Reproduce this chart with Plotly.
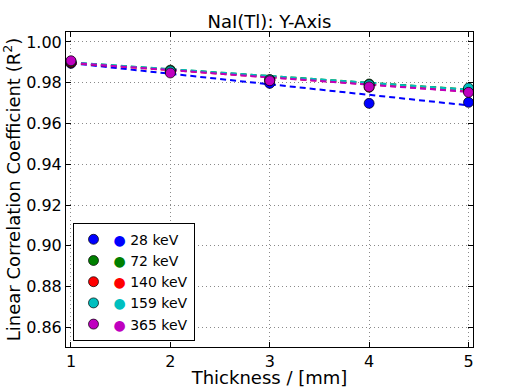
import plotly.graph_objects as go

# ----------------------------------------------------------------------
# data
thickness = [1, 2, 3, 4, 5]
energies = ['28 keV', '72 keV', '140 keV', '159 keV', '365 keV']
colors = ['#0000FF', '#008000', '#FF0000', '#00BFBF', '#BF00BF']

r2_28 = [0.9895, 0.9855, 0.9797, 0.9699, 0.9704]
r2_72 = [0.9900, 0.9862, 0.9815, 0.9794, 0.9768]
r2_140 = [0.9900, 0.9855, 0.9812, 0.9778, 0.9757]
r2_159 = [0.9905, 0.9858, 0.9815, 0.9790, 0.9774]
r2_365 = [0.9908, 0.9848, 0.9810, 0.9780, 0.9753]

# dashed fit lines, value at thickness 1 and 5
fit_x = [1, 5]
fit_28 = [0.9896, 0.9689]
fit_72 = [0.9899, 0.9767]
fit_140 = [0.9897, 0.9757]
fit_159 = [0.9900, 0.9766]
fit_365 = [0.9898, 0.9755]

series = [r2_28, r2_72, r2_140, r2_159, r2_365]
fits = [fit_28, fit_72, fit_140, fit_159, fit_365]

font = 'DejaVu Sans, Liberation Sans, sans-serif'

fig = go.Figure()

# fit lines first, points on top
for fit, c in zip(fits, colors):
    fig.add_trace(go.Scatter(
        x=fit_x, y=fit, mode='lines', showlegend=False, hoverinfo='skip',
        line=dict(color=c, width=2, dash='6px,4px'),
    ))

for vals, name, c in zip(series, energies, colors):
    fig.add_trace(go.Scatter(
        x=thickness, y=vals, mode='markers',
        name=f"<span style='color:{c}'>\u25CF</span> {name}",
        marker=dict(color=c, size=10, line=dict(color='black', width=0.7)),
    ))

axis_common = dict(
    showline=True, linecolor='black', linewidth=1, mirror='allticks',
    ticks='inside', ticklen=5, tickcolor='black',
    showgrid=True, gridcolor='#8a8a8a', griddash='1px,3px', gridwidth=1,
    zeroline=False, tickfont=dict(size=16, color='black'),
    automargin=False,
)

fig.update_xaxes(
    range=[0.95, 5.045], tickvals=[1, 2, 3, 4, 5],
    title=dict(text='Thickness / [mm]', font=dict(size=18, color='black'), standoff=6),
    **axis_common,
)
fig.update_yaxes(
    range=[0.8504, 1.0049], tickvals=[0.86, 0.88, 0.90, 0.92, 0.94, 0.96, 0.98, 1.00],
    tickformat='.2f',
    title=dict(text='Linear Correlation Coefficient (R<sup>2</sup>)',
               font=dict(size=18, color='black'), standoff=4),
    **axis_common,
)

fig.update_layout(
    width=509, height=388,
    margin=dict(l=66, r=36, t=32, b=41),
    paper_bgcolor='white', plot_bgcolor='white',
    font=dict(family=font, color='black'),
    title=dict(text='NaI(Tl): Y-Axis', x=0.5, xref='paper', xanchor='center',
               y=1, yref='paper', yanchor='bottom', pad=dict(b=4),
               font=dict(size=18, color='black')),
    legend=dict(
        x=0.016, y=0.02, xanchor='left', yanchor='bottom',
        bgcolor='white', bordercolor='black', borderwidth=1,
        font=dict(size=14, color='black'), tracegroupgap=0,
        itemwidth=30,
    ),
)

# page margin off so the figure sits at the window's corner
fig.write_html('out.html', config={'displayModeBar': False},
               post_script="document.body.style.margin='0';")
